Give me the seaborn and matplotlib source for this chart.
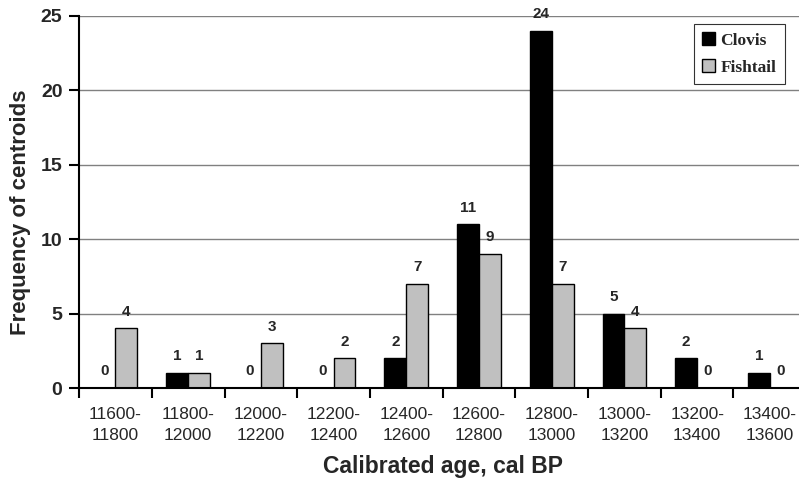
import pandas as pd
import matplotlib.pyplot as plt
import seaborn as sns
from matplotlib.ticker import FixedLocator

# --- DATA ---
age_bins = ["11600-\n11800", "11800-\n12000", "12000-\n12200", "12200-\n12400",
            "12400-\n12600", "12600-\n12800", "12800-\n13000", "13000-\n13200",
            "13200-\n13400", "13400-\n13600"]
clovis = [0, 1, 0, 0, 2, 11, 24, 5, 2, 1]
fishtail = [4, 1, 3, 2, 7, 9, 7, 4, 0, 0]

df = pd.DataFrame({
    "bin": age_bins * 2,
    "count": clovis + fishtail,
    "type": ["Clovis"] * len(age_bins) + ["Fishtail"] * len(age_bins),
})

sns.set_theme(style="white")
plt.rcParams['font.family'] = ['Liberation Sans', 'DejaVu Sans']

fig = plt.figure(figsize=(7.99, 4.82), dpi=100)
# plot area runs a little past the right edge, as in the original
ax = fig.add_axes([0.099, 0.195, 0.91, 0.772])

sns.barplot(data=df, x="bin", y="count", hue="type", ax=ax,
            palette=["#000000", "#c0c0c0"], edgecolor="black", linewidth=1,
            width=0.6, saturation=1, errorbar=None)

for cont in ax.containers:
    ax.bar_label(cont, fmt="%d", padding=7, fontsize=11, fontweight="bold")

ax.set_xlim(-0.5, 9.5)
ax.set_ylim(0, 25)
ax.set_yticks([0, 5, 10, 15, 20, 25])
ax.yaxis.grid(True, color="#808080", linewidth=1)
ax.set_axisbelow(True)

for s in ["top", "right"]:
    ax.spines[s].set_visible(False)
for s in ["left", "bottom"]:
    ax.spines[s].set_color("black")
    ax.spines[s].set_linewidth(1.5)
    ax.spines[s].set_clip_on(False)

ax.tick_params(axis="x", which="major", length=0, labelsize=12.5, pad=14)
ax.xaxis.set_minor_locator(FixedLocator([i + 0.5 for i in range(-1, 10)]))
ax.tick_params(axis="x", which="minor", length=7, width=1.5, color="black", direction="out", bottom=True)
ax.tick_params(axis="y", length=7, width=1.5, color="black", direction="out", left=True,
               labelsize=14, pad=5)
for lbl in ax.get_yticklabels():
    lbl.set_fontweight("bold")
for lbl in ax.get_xticklabels():
    lbl.set_linespacing(1.45)

ax.set_xlabel("Calibrated age, cal BP", fontsize=16.5, fontweight="bold", labelpad=9)
ax.set_ylabel("Frequency of centroids", fontsize=16, fontweight="bold")
ax.yaxis.set_label_coords(-0.066, 0.473)

leg = ax.legend(loc="upper right", bbox_to_anchor=(0.971, 0.979), frameon=True,
                fancybox=False, edgecolor="black", handlelength=0.75, handleheight=0.75,
                handletextpad=0.3, labelspacing=0.6, borderpad=0.5, borderaxespad=0,
                prop={"family": "Liberation Serif", "weight": "bold", "size": 12.5})
leg.get_frame().set_linewidth(0.8)

fig.savefig("out.png", dpi=100)
